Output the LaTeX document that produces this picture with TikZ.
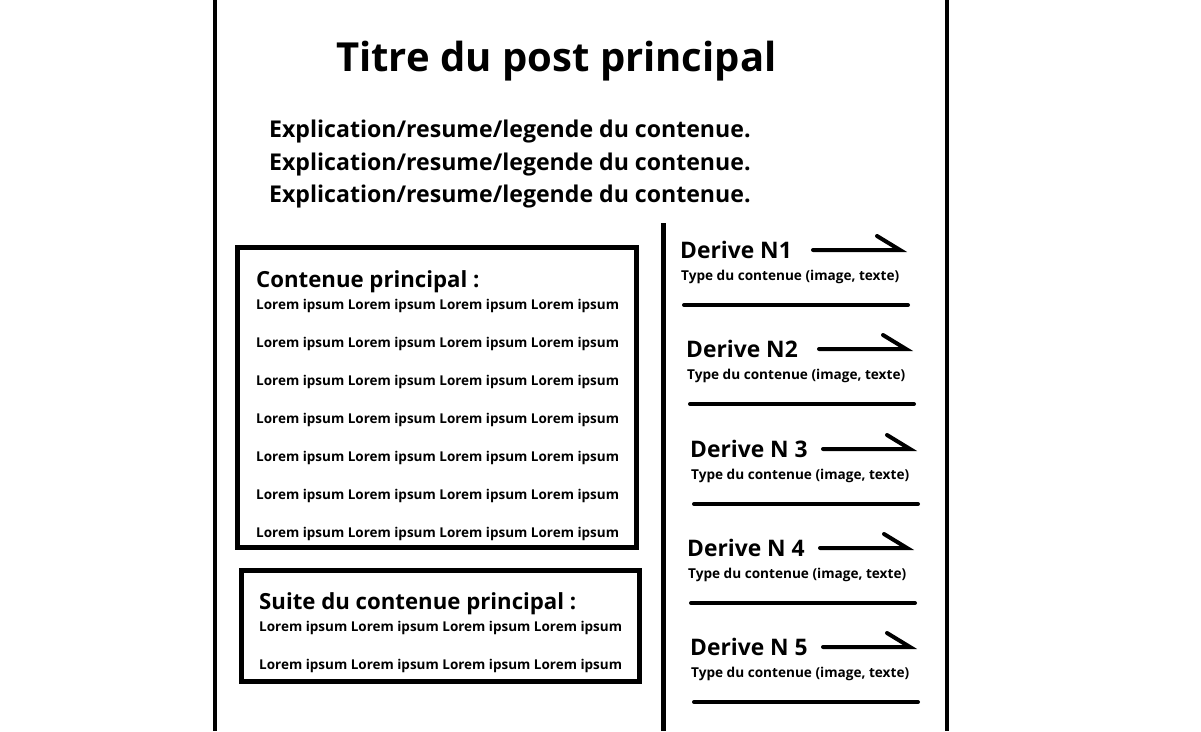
\documentclass[tikz,border=0pt]{standalone}
\usepackage{fontspec}
\setmainfont{Open Sans}
\tikzset{
  txt/.style={anchor=base west, inner sep=0pt, font=\bfseries},
  rule/.style={line width=4.5pt},
  box/.style={draw, line width=4.5pt},
  thin/.style={line width=4pt, line cap=round},
}
\begin{document}
\begin{tikzpicture}[x=1pt,y=-1pt]
\useasboundingbox[fill=white] (0,0) rectangle (1201,731);
% page borders
\draw[rule] (215,0) -- (215,731);
\draw[rule] (947,0) -- (947,731);
\draw[rule] (663.5,223) -- (663.5,731);
% title
\node[txt, font=\bfseries\fontsize{40}{44}\selectfont] (title) at (336,71) {Titre du post principal};
\foreach \y/\n in {137/e1,170/e2,202/e3}
  \node[txt, font=\bfseries\fontsize{23.1}{26}\selectfont] (\n) at (269,\y) {Explication/resume/legende du contenue.};
% box 1
\draw[box] (237.5,247.5) rectangle (636.5,547.5);
\node[txt, font=\bfseries\fontsize{22.2}{26}\selectfont] (c1) at (256,287) {Contenue principal :};
\foreach \i in {0,...,6}
  \node[txt, font=\bfseries\fontsize{13.5}{15}\selectfont] (l\i) at (256,309+38*\i) {Lorem ipsum Lorem ipsum Lorem ipsum Lorem ipsum};
% box 2
\draw[box] (241.5,570.5) rectangle (639.5,681.5);
\node[txt, font=\bfseries\fontsize{22.2}{26}\selectfont] (c2) at (259,609) {Suite du contenue principal :};
\node[txt, font=\bfseries\fontsize{13.5}{15}\selectfont] (s1) at (259,631) {Lorem ipsum Lorem ipsum Lorem ipsum Lorem ipsum};
\node[txt, font=\bfseries\fontsize{13.5}{15}\selectfont] (s2) at (259,669) {Lorem ipsum Lorem ipsum Lorem ipsum Lorem ipsum};
% derives
\foreach \n/\x/\y/\lab in {1/680/258/Derive N1, 2/686/357/Derive N2, 3/690/457/Derive N 3, 4/687/556/Derive N 4, 5/690/655/Derive N 5}{
  \node[txt, font=\bfseries\fontsize{22.8}{26}\selectfont] (d\n) at (\x,\y) {\lab};
  \node[txt, font=\bfseries\fontsize{13.6}{15}\selectfont] (t\n) at (\x+1,\y+22) {Type du contenue (image, texte)};
  \coordinate (a\n) at (\x+133,\y-8);
  \coordinate (b\n) at (\x+220,\y-8);
  \coordinate (h\n) at (\x+197,\y-22);
  \draw[thin] (a\n) -- (b\n) -- (h\n);
  \coordinate (u\n) at (\x+4,\y+47);
  \coordinate (v\n) at (\x+228,\y+47);
  \draw[thin] (u\n) -- (v\n);
}
\end{tikzpicture}
\end{document}
